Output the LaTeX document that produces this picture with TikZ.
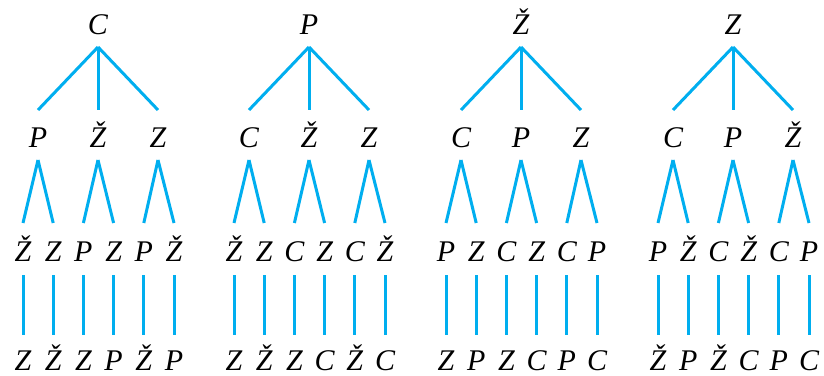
\documentclass[tikz,border=0pt]{standalone}
\usepackage{fontspec}
\setmainfont{Liberation Serif}
\usetikzlibrary{calc}

% One permutation tree: id, x offset, root letter, three children,
% six grandchildren, six leaves
\newcommand{\famtree}[6]{%
  \node[lab] (#1r) at (#2+98,34) {#3};
  \foreach \t [count=\i] in {#4} {
    \node[lab] (#1c\i) at ({#2+38+60*(\i-1)},147) {\t};
    \draw[edge] ($(#1r.base)+(0,13)$) -- ($(#1c\i.base)+(0,-37)$);
  }
  \foreach \t [count=\j] in {#5} {
    \pgfmathtruncatemacro\p{(\j+1)/2}
    \node[lab] (#1g\j) at ({#2+23+30.2*(\j-1)},261) {\t};
    \draw[edge] ($(#1c\p.base)+(0,13)$) -- ($(#1g\j.base)+(0,-38)$);
  }
  \foreach \t [count=\j] in {#6} {
    \node[lab] (#1l\j) at ({#2+23+30.2*(\j-1)},370) {\t};
    \draw[edge] ($(#1g\j.base)+(0,14)$) -- ($(#1l\j.base)+(0,-35)$);
  }%
}

\begin{document}
\begin{tikzpicture}[x=1pt,y=-1pt,
  lab/.style={font=\fontsize{30}{30}\selectfont\itshape, anchor=base, inner sep=0pt},
  edge/.style={draw=treeblue, line width=3pt}]
\definecolor{treeblue}{HTML}{00AEEF}
\useasboundingbox (0,0) rectangle (824,375);
\famtree{a}{0}{C}{P,Ž,Z}{Ž,Z,P,Z,P,Ž}{Z,Ž,Z,P,Ž,P}
\famtree{b}{211}{P}{C,Ž,Z}{Ž,Z,C,Z,C,Ž}{Z,Ž,Z,C,Ž,C}
\famtree{c}{423}{Ž}{C,P,Z}{P,Z,C,Z,C,P}{Z,P,Z,C,P,C}
\famtree{d}{635}{Z}{C,P,Ž}{P,Ž,C,Ž,C,P}{Ž,P,Ž,C,P,C}
\end{tikzpicture}
\end{document}
